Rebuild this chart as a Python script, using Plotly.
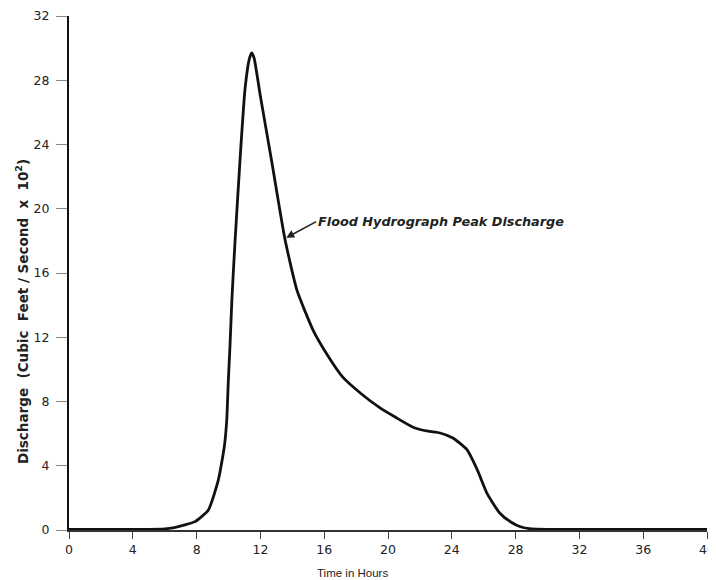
import plotly.graph_objects as go

# Hydrograph
time_hours = [0, 3, 5, 6, 6.6, 7.2, 7.9, 8.74, 9.36, 9.74, 9.89, 9.99, 10.09, 10.22, 10.4,
              10.72, 11.03, 11.3, 11.45, 11.6, 12.0, 12.7, 13.54, 14.3, 15.3, 16.2, 17.18,
              18.3, 19.5, 20.5, 21.57, 22.5, 23.26, 24.07, 24.95, 25.6, 26.2, 27.0, 27.7,
              28.3, 29.0, 30, 34, 40]
discharge = [0.03, 0.03, 0.04, 0.07, 0.15, 0.3, 0.52, 1.25, 3.1, 5.2, 6.85, 9.3, 11.4, 14.5, 17.8,
             23.0, 27.4, 29.3, 29.7, 29.4, 27.0, 23.0, 18.1, 14.9, 12.45, 10.9, 9.5,
             8.5, 7.6, 7.0, 6.4, 6.15, 6.04, 5.73, 5.0, 3.74, 2.3, 1.06, 0.5,
             0.2, 0.07, 0.04, 0.03, 0.03]

x_ticks = [0, 4, 8, 12, 16, 20, 24, 28, 32, 36, 40]
y_ticks = [0, 4, 8, 12, 16, 20, 24, 28, 32]

annot_text = "Flood Hydrograph Peak Discharge"
annot_point = (13.62, 18.2)
x_title = "Time in Hours"
y_title = "Discharge  (Cubic  Feet / Second  x  10<sup>2</sup>)"

# the page body adds an 8px offset, so the figure is 8px smaller than the window
W, H = 708, 572
ML, MR, MT, MB = 61, 9, 8, 50

fig = go.Figure()
fig.add_trace(go.Scatter(
    x=time_hours, y=discharge, mode="lines",
    line=dict(color="#111111", width=2.8, shape="spline", smoothing=0.5),
    hoverinfo="skip", showlegend=False,
))

fig.add_annotation(
    x=annot_point[0], y=annot_point[1], xref="x", yref="y",
    text="<b><i>" + annot_text + "</i></b>",
    showarrow=True, arrowhead=2, arrowsize=1, arrowwidth=1.6, arrowcolor="#222",
    ax=30, ay=-16, xanchor="left", yanchor="middle",
    font=dict(family="DejaVu Sans", size=12.8, color="#222"),
)

pw, ph = W - ML - MR, H - MT - MB


def paper_x(px):
    return (px - ML) / pw


def paper_y(py):
    return (H - MB - py) / ph


fig.add_annotation(
    x=paper_x(14), y=paper_y(304), xref="paper", yref="paper",
    text="<b>" + y_title + "</b>",
    textangle=-90, showarrow=False, xanchor="center", yanchor="middle",
    font=dict(family="DejaVu Sans", size=13.5, color="#222"),
)
fig.add_annotation(
    x=paper_x(344), y=paper_y(565), xref="paper", yref="paper",
    text=x_title, showarrow=False, xanchor="center", yanchor="middle",
    font=dict(family="Liberation Sans", size=11.5, color="#222"),
)

fig.update_layout(
    width=W, height=H,
    margin=dict(l=ML, r=MR, t=MT, b=MB),
    paper_bgcolor="white", plot_bgcolor="white",
    font=dict(family="Liberation Sans", color="#222"),
)
fig.update_xaxes(
    range=[0, 40], tickmode="array", tickvals=x_ticks,
    ticktext=[str(v) for v in x_ticks], automargin=False,
    ticklabeloverflow="allow",
    showgrid=False, zeroline=False, showline=True, linecolor="#333", linewidth=1.5,
    ticks="outside", ticklen=7, tickcolor="#444", tickwidth=1.2,
    tickfont=dict(family="DejaVu Sans", size=12.5, color="#222"),
)
fig.update_yaxes(
    range=[0, 32], tickmode="array", tickvals=y_ticks,
    ticktext=[str(v) for v in y_ticks], automargin=False,
    showgrid=False, zeroline=False, showline=True, linecolor="#111", linewidth=2,
    ticks="outside", ticklen=11, tickcolor="#888", tickwidth=1.2,
    ticklabelstandoff=4,
    tickfont=dict(family="DejaVu Sans", size=12.5, color="#222"),
)

fig.write_html("out.html")
